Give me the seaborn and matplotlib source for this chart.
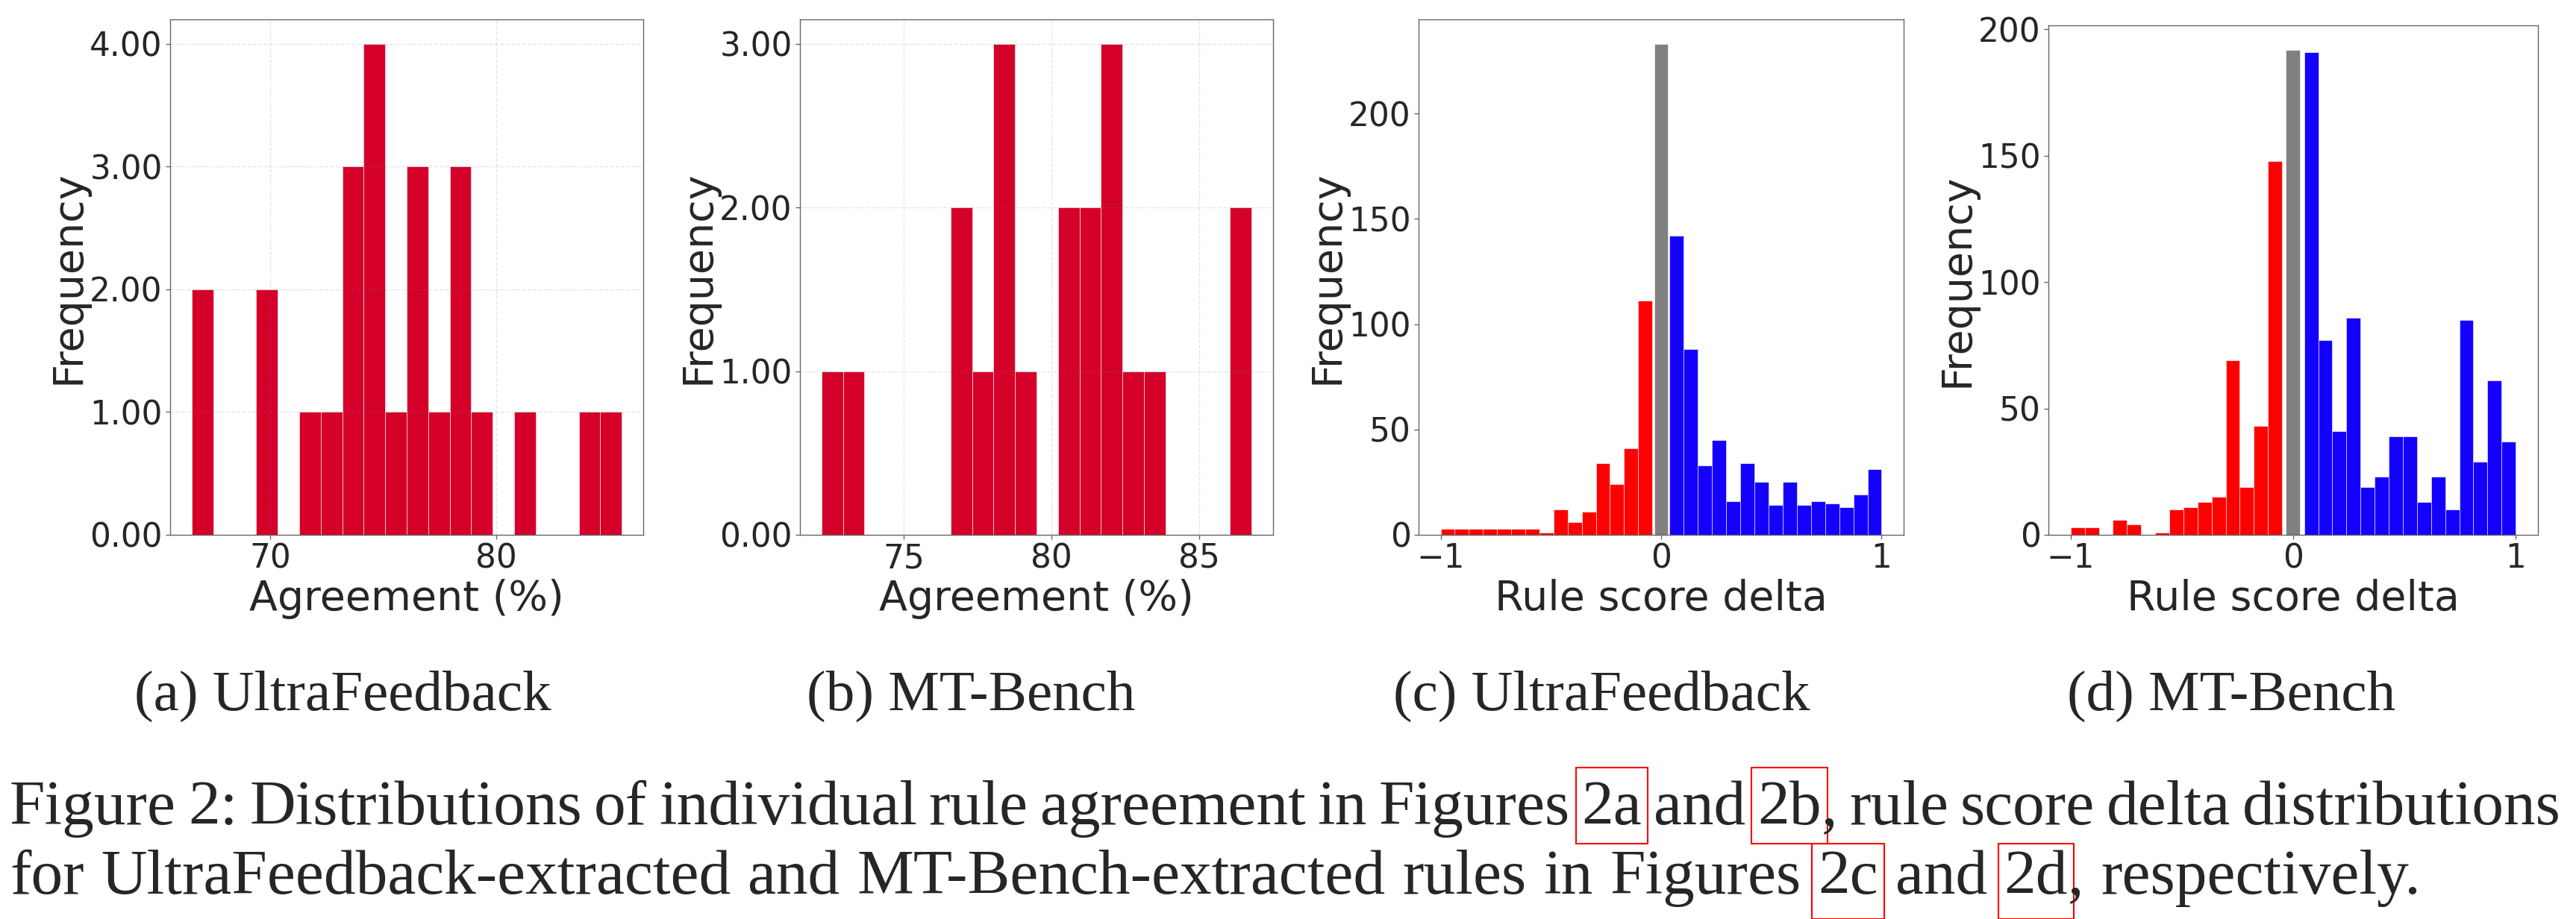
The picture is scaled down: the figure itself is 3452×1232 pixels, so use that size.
import re
import numpy as np
import pandas as pd
import matplotlib as mpl
import matplotlib.pyplot as plt
from matplotlib.patches import Rectangle
from matplotlib.ticker import MultipleLocator, FormatStrFormatter
from matplotlib.transforms import IdentityTransform
import seaborn as sns

sns.set_style("white")
plt.rcParams['font.family'] = ['DejaVu Sans']

W, H = 3452, 1232

# (a) UltraFeedback: rule agreement (%), 20 bins
uf_agree_range = (66.53, 85.55)
uf_agree_counts = [2, 0, 0, 2, 0, 1, 1, 3, 4, 1, 3, 1, 3, 1, 0, 1, 0, 0, 1, 1]

# (b) MT-Bench: rule agreement (%), 20 bins
mt_agree_range = (72.22, 86.77)
mt_agree_counts = [1, 1, 0, 0, 0, 0, 2, 1, 3, 1, 0, 2, 2, 3, 1, 1, 0, 0, 0, 2]

# (c) UltraFeedback: rule score delta (negative / zero / positive)
uf_neg_range = (-1.0, -0.04)
uf_neg_counts = [3, 3, 3, 3, 3, 3, 3, 1, 12, 6, 11, 34, 24, 41, 111]
uf_zero_range = (-0.031, 0.032)
uf_zero_counts = [233]
uf_pos_range = (0.038, 1.0)
uf_pos_counts = [142, 88, 33, 45, 16, 34, 25, 14, 25, 14, 16, 15, 13, 19, 31]

# (d) MT-Bench: rule score delta
mt_neg_range = (-1.0, -0.05)
mt_neg_counts = [3, 3, 0, 6, 4, 0, 1, 10, 11, 13, 15, 69, 19, 43, 148]
mt_zero_range = (-0.032, 0.030)
mt_zero_counts = [192]
mt_pos_range = (0.049, 1.0)
mt_pos_counts = [191, 77, 41, 86, 19, 23, 39, 39, 13, 23, 10, 85, 29, 61, 37]

sub_captions = ["(a) UltraFeedback", "(b) MT-Bench", "(c) UltraFeedback", "(d) MT-Bench"]
caption_lines = [
    "Figure 2: Distributions of individual rule agreement in Figures [2a] and [2b], rule score delta distributions",
    "for UltraFeedback-extracted and MT-Bench-extracted rules in Figures [2c] and [2d], respectively.",
]

AGREE_RED = "#D4002A"
NEG_RED = "#FF0000"
ZERO_GRAY = "#808080"
POS_BLUE = "#1400FF"
FRAME = "#666666"


def hist_bars(ax, counts, rng, color):
    lo, hi = rng
    n = len(counts)
    w = (hi - lo) / n
    df = pd.DataFrame({"x": [lo + (i + 0.5) * w for i in range(n)], "n": counts})
    sns.histplot(data=df, x="x", weights="n", bins=n, binrange=(lo, hi), color=color,
                 alpha=1, edgecolor="white", linewidth=0.4, ax=ax)


def add_ax(left, right, top, bottom):
    return fig.add_axes([left / W, 1 - bottom / H, (right - left) / W, (bottom - top) / H])


def style(ax, xlabel, grid):
    ax.set_xlabel(xlabel, fontsize=40)
    ax.set_ylabel("Frequency", fontsize=40, labelpad=1)
    ax.tick_params(labelsize=31.5, length=4, width=1, color=FRAME, left=True, bottom=True)
    for s in ax.spines.values():
        s.set_color(FRAME)
        s.set_linewidth(1)
    if grid:
        ax.grid(True, linestyle="--", color="gray", alpha=0.2, linewidth=1)
        ax.set_axisbelow(False)


fig = plt.figure(figsize=(W / 100, H / 100), dpi=100)

ax_a = add_ax(228, 862, 26, 717)
hist_bars(ax_a, uf_agree_counts, uf_agree_range, AGREE_RED)
style(ax_a, "Agreement (%)", True)
ax_a.xaxis.set_major_locator(MultipleLocator(10))
ax_a.yaxis.set_major_locator(MultipleLocator(1))
ax_a.yaxis.set_major_formatter(FormatStrFormatter("%.2f"))

ax_b = add_ax(1072, 1706, 26, 717)
hist_bars(ax_b, mt_agree_counts, mt_agree_range, AGREE_RED)
style(ax_b, "Agreement (%)", True)
ax_b.xaxis.set_major_locator(MultipleLocator(5))
ax_b.yaxis.set_major_locator(MultipleLocator(1))
ax_b.yaxis.set_major_formatter(FormatStrFormatter("%.2f"))

ax_c = add_ax(1901, 2551, 26, 717)
hist_bars(ax_c, uf_neg_counts, uf_neg_range, NEG_RED)
hist_bars(ax_c, uf_zero_counts, uf_zero_range, ZERO_GRAY)
hist_bars(ax_c, uf_pos_counts, uf_pos_range, POS_BLUE)
style(ax_c, "Rule score delta", False)

ax_d = add_ax(2745, 3401, 34, 717)
hist_bars(ax_d, mt_neg_counts, mt_neg_range, NEG_RED)
hist_bars(ax_d, mt_zero_counts, mt_zero_range, ZERO_GRAY)
hist_bars(ax_d, mt_pos_counts, mt_pos_range, POS_BLUE)
style(ax_d, "Rule score delta", False)

for ax in (ax_c, ax_d):
    ax.xaxis.set_major_locator(MultipleLocator(1))
    ax.yaxis.set_major_locator(MultipleLocator(50))

# sub-figure captions
serif = ["Liberation Serif", "DejaVu Serif"]
for xc, s in zip([459, 1301, 2146, 2990], sub_captions):
    fig.text(xc, H - 952, s, fontsize=55.5, family=serif, ha="center", va="baseline",
             transform=IdentityTransform())

# figure caption, laid out word by word so the reference boxes can be drawn
renderer = fig.canvas.get_renderer()
cap_size = 61.5


def caption_line(line, x0, baseline, box_lo, box_hi, x1):
    words = []
    for w in line.split(" "):
        pieces = [(p.strip("[]"), p.startswith("[")) for p in re.findall(r"\[[^\]]+\]|[^\[]+", w)]
        words.append(pieces)
    measured = []
    for pieces in words:
        row = []
        for txt, boxed in pieces:
            t = fig.text(0, baseline, txt, fontsize=cap_size, family=serif, va="baseline",
                         transform=IdentityTransform())
            row.append((t, t.get_window_extent(renderer).width, boxed))
        measured.append(row)
    total = sum(wd for row in measured for _, wd, _ in row)
    gap = (x1 - x0 - total) / (len(measured) - 1)
    x = x0
    for row in measured:
        for t, wd, boxed in row:
            t.set_x(x)
            if boxed:
                fig.add_artist(Rectangle((x - 8, baseline - box_lo), wd + 16, box_lo + box_hi,
                                         fill=False, edgecolor="red", linewidth=1.5,
                                         transform=IdentityTransform()))
            x += wd
        x += gap


caption_line(caption_lines[0], 13, H - 1105, 26, 76, 3432)
caption_line(caption_lines[1], 13, H - 1198, 34, 67, 3244)

fig.savefig("out.png", dpi=100)
